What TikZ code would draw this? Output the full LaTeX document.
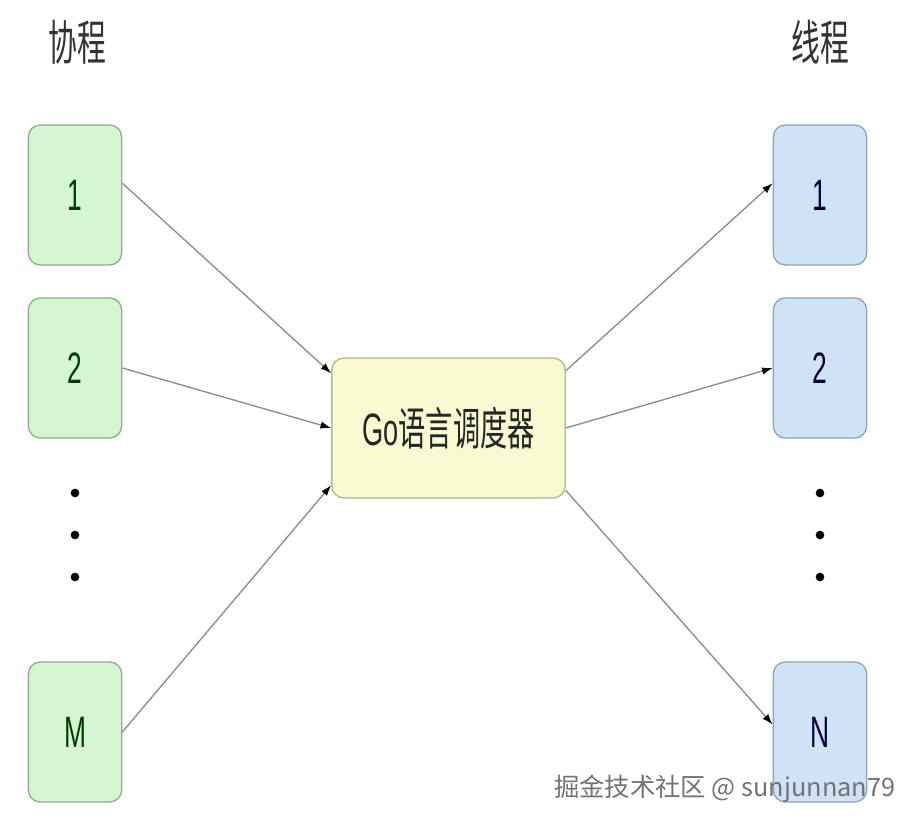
\documentclass[tikz,border=0pt]{standalone}
\usepackage{fontspec}
\setmainfont{Liberation Sans}[FakeStretch=0.6]
\newfontfamily\cjk{Noto Sans CJK SC}[FakeStretch=0.6]
\newfontfamily\wmfont{Noto Sans CJK SC}
\usetikzlibrary{arrows.meta}
\definecolor{gfill}{HTML}{D6F5D2}
\definecolor{gline}{HTML}{8FAE8A}
\definecolor{bfill}{HTML}{D0E3F6}
\definecolor{bline}{HTML}{8FA3BA}
\definecolor{yfill}{HTML}{FAFAD2}
\definecolor{yline}{HTML}{B5B592}
\tikzset{
  cobox/.style={draw=gline, fill=gfill, line width=1pt, rounded corners=9pt,
    minimum width=70pt, minimum height=105pt, text=green!25!black,
    font=\fontsize{33}{33}\selectfont},
  thbox/.style={cobox, draw=bline, fill=bfill, text=blue!20!black},
  schedbox/.style={draw=yline, fill=yfill, line width=1pt, rounded corners=9pt,
    minimum width=175pt, minimum height=105pt, text=black!85,
    font=\fontsize{34}{34}\selectfont},
  title/.style={font=\cjk\fontsize{36}{36}\selectfont, text=black!80},
  link/.style={draw=black!45, line width=1pt, -{Latex[black,length=8pt,width=5.5pt]}},
  dot/.style={circle, fill=black, inner sep=0pt, minimum size=6.5pt}
}
\begin{document}
\begin{tikzpicture}[x=0.75pt, y=-0.75pt]
  \useasboundingbox[fill=white] (0,0) rectangle (921,827);
  % titles
  \node[title] (cotitle) at (77,42) {协程};
  \node[title] (thtitle) at (820,42) {线程};
  % coroutines
  \node[cobox] (g1) at (75,195) {1};
  \node[cobox] (g2) at (75,368) {2};
  \node[cobox] (gm) at (75,732) {M};
  % threads
  \node[thbox] (t1) at (820,195) {1};
  \node[thbox] (t2) at (820,368) {2};
  \node[thbox] (tn) at (820,732) {N};
  % scheduler
  \node[schedbox] (sched) at (448.5,428) {Go{\cjk 语言调度器}};
  % dots
  \foreach \y [count=\i] in {493,535,577} {
    \node[dot] (gd\i) at (75,\y) {};
    \node[dot] (td\i) at (820,\y) {};
  }
  % arrows
  \draw[link] (g1.14) -- (sched.155);
  \draw[link] (g2.east) -- (sched.west);
  \draw[link] (gm.east) -- (sched.206);
  \draw[link] (sched.26) -- (t1.166);
  \draw[link] (sched.east) -- (t2.west);
  \draw[link] (sched.-28) -- (tn.171);
  % watermark
  \node[font=\wmfont\fontsize{19}{19}\selectfont, text=black!55, anchor=east]
    (mark) at (900,789) {掘金技术社区 @ sunjunnan79};
\end{tikzpicture}
\end{document}
